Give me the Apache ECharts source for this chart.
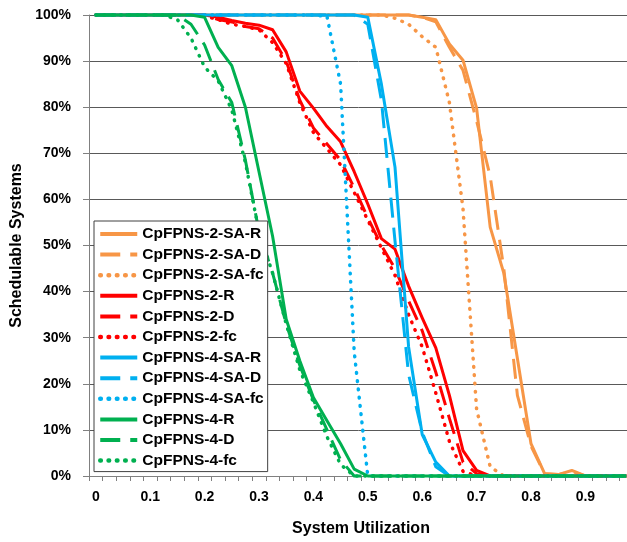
<!DOCTYPE html>
<html>
<head>
<meta charset="utf-8">
<script src="https://cdn.jsdelivr.net/npm/echarts@6/dist/echarts.min.js"></script>
<style>
html,body{margin:0;padding:0;background:#fff;}
#chart{width:627px;height:542px;}
</style>
</head>
<body>
<div id="chart"></div>
<script>
const categories = ['0','0.025','0.05','0.075','0.1','0.125','0.15','0.175','0.2','0.225',
  '0.25','0.275','0.3','0.325','0.35','0.375','0.4','0.425','0.45','0.475',
  '0.5','0.525','0.55','0.575','0.6','0.625','0.65','0.675','0.7','0.725',
  '0.75','0.775','0.8','0.825','0.85','0.875','0.9','0.925','0.95','0.975'];

const yTicks = [0,10,20,30,40,50,60,70,80,90,100];

const orangeR  = [100,100,100,100,100,100,100,100,100,100, 100,100,100,100,100,100,100,100,100,100, 100,100,100,100,99.5,99,93.7,90.2,79.8,54, 44,25.5,7,0.5,0.3,1.2,0,0,0,0];
const orangeD  = [100,100,100,100,100,100,100,100,100,100, 100,100,100,100,100,100,100,100,100,100, 100,100,100,100,99.5,98.5,93,88,77,65, 45,17.5,6.5,0.5,0.3,1,0,0,0,0];
const orangeFc = [100,100,100,100,100,100,100,100,100,100, 100,100,100,100,100,100,100,100,100,100, 100,100,99.3,98,95.3,93,81,58,14.5,2, 0,0,0,0,0,0,0,0,0,0];

const redR  = [100,100,100,100,100,100,100,100,100,99.5, 98.8,98.2,97.8,96.8,92,83.5,79.8,75.8,72.5,66, 59,51.5,49.2,41.2,34.3,27.8,17.5,5.5,1.2,0, 0,0,0,0,0,0,0,0,0,0];
const redD  = [100,100,100,100,100,100,100,100,100,99, 98.5,97.5,97,95,90,81.5,75.5,72,68.5,62.5, 56,50,45,38,31.5,22.5,12.5,3,0.5,0, 0,0,0,0,0,0,0,0,0,0];
const redFc = [100,100,100,100,100,100,100,100,99.8,99, 98,97.5,96.8,94,89.5,81,74.5,71,67.5,61.5, 55.5,49.5,43.5,35,28,18,7.5,1,0,0, 0,0,0,0,0,0,0,0,0,0];

const blueR  = [100,100,100,100,100,100,100,100,100,100, 100,100,100,100,100,100,100,100,100,100, 99.5,85,67,28,9,3,0,0,0,0, 0,0,0,0,0,0,0,0,0,0];
const blueD  = [100,100,100,100,100,100,100,100,100,100, 100,100,100,100,100,100,100,100,100,100, 98,81.5,51,22,9.5,2,0,0,0,0, 0,0,0,0,0,0,0,0,0,0];
const blueFc = [100,100,100,100,100,100,100,100,100,100, 100,100,100,100,100,100,100,99.7,85,27, 0,0,0,0,0,0,0,0,0,0, 0,0,0,0,0,0,0,0,0,0];

const greenR  = [100,100,100,100,100,100,100,100,99.5,93, 89,80,66,52,34,25,17,12,7,1.5, 0,0,0,0,0,0,0,0,0,0, 0,0,0,0,0,0,0,0,0,0];
const greenD  = [100,100,100,100,100,100,100,98,93.5,86, 81,68.5,53,44,33,24,16.5,10,3.5,0, 0,0,0,0,0,0,0,0,0,0, 0,0,0,0,0,0,0,0,0,0];
const greenFc = [100,100,100,100,100,100,99,95,88.7,85.7, 79.4,68,53,44,33,23,16,8.5,2.5,0, 0,0,0,0,0,0,0,0,0,0, 0,0,0,0,0,0,0,0,0,0];

const seriesNames = ['CpFPNS-2-SA-R','CpFPNS-2-SA-D','CpFPNS-2-SA-fc',
  'CpFPNS-2-R','CpFPNS-2-D','CpFPNS-2-fc',
  'CpFPNS-4-SA-R','CpFPNS-4-SA-D','CpFPNS-4-SA-fc',
  'CpFPNS-4-R','CpFPNS-4-D','CpFPNS-4-fc'];
const seriesData = [orangeR, orangeD, orangeFc, redR, redD, redFc, blueR, blueD, blueFc, greenR, greenD, greenFc];
const colors = ['#F79646','#FF0000','#00B0F0','#00B050'];

const FONT = 'Liberation Sans, Arial, sans-serif';
const styleFor = function(k){
  if (k === 0) return {width: 3, type: 'solid', cap: 'butt'};
  if (k === 1) return {width: 3, type: [20, 10], cap: 'butt'};
  return {width: 3.5, type: [0.6, 7.7], cap: 'round'};
};

const series = seriesData.map(function(d, idx){
  const color = colors[Math.floor(idx / 3)];
  const ls = styleFor(idx % 3);
  return {
    name: seriesNames[idx],
    type: 'line',
    data: d,
    symbol: 'none',
    clip: false,
    color: color,
    lineStyle: {color: color, width: ls.width, type: ls.type, cap: ls.cap, join: 'round'},
    emphasis: {disabled: true},
    z: 2
  };
});

const legendData = seriesNames.map(function(n, idx){
  const ls = styleFor(idx % 3);
  return {name: n, lineStyle: {width: ls.width + 1}};
});

const chart = echarts.init(document.getElementById('chart'), null, {renderer: 'canvas'});
chart.setOption({
  animation: false,
  backgroundColor: '#ffffff',
  grid: {left: 89, right: -6, top: 15, bottom: 66, containLabel: false, outerBoundsMode: 'none'},
  legend: {
    orient: 'vertical',
    left: 94, top: 221,
    padding: [5, 4, 3, 4],
    itemWidth: 37, itemHeight: 14, itemGap: 4.6,
    backgroundColor: '#ffffff',
    borderColor: '#404040', borderWidth: 1,
    selectedMode: false,
    itemStyle: {opacity: 0},
    data: legendData,
    textStyle: {fontFamily: FONT, fontWeight: 'bold', fontSize: 15.5, color: '#000'}
  },
  xAxis: {
    type: 'category',
    data: categories,
    boundaryGap: true,
    name: 'System Utilization',
    nameLocation: 'middle',
    nameGap: 45,
    nameTextStyle: {fontFamily: FONT, fontWeight: 'bold', fontSize: 16, color: '#000'},
    axisLine: {show: true, lineStyle: {color: '#808080', width: 1}},
    axisTick: {show: true, interval: 0, length: 5, lineStyle: {color: '#808080'}},
    axisLabel: {interval: 3, margin: 14, fontFamily: FONT, fontWeight: 'bold', fontSize: 14, color: '#000'},
    splitLine: {show: false}
  },
  yAxis: {
    type: 'value',
    min: yTicks[0], max: yTicks[yTicks.length - 1], interval: 10,
    name: 'Schedulable Systems',
    nameLocation: 'middle',
    nameGap: 64,
    nameTextStyle: {fontFamily: FONT, fontWeight: 'bold', fontSize: 16, color: '#000'},
    axisLine: {show: true, lineStyle: {color: '#808080', width: 1}},
    axisTick: {show: true, length: 6, lineStyle: {color: '#808080'}},
    axisLabel: {margin: 18, formatter: '{value}%', fontFamily: FONT, fontWeight: 'bold', fontSize: 14, color: '#000'},
    splitLine: {show: true, lineStyle: {color: '#595959', width: 1}}
  },
  series: series
});
</script>
</body>
</html>
